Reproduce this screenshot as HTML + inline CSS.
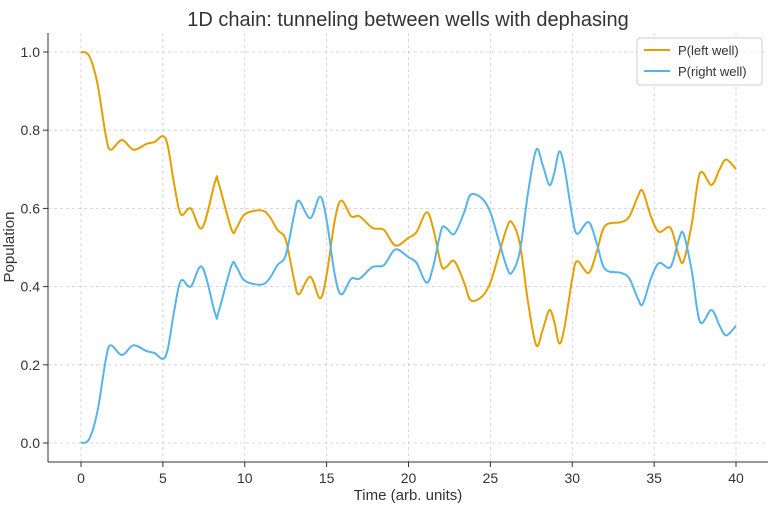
<!DOCTYPE html>
<html><head><meta charset="utf-8"><style>
body{margin:0;background:#fff;}
svg text{font-family:"Liberation Sans",sans-serif;}
</style></head><body>
<svg id="chart" width="768" height="512" viewBox="0 0 768 512">
<text x="408" y="26" text-anchor="middle" font-size="20" fill="#333">1D chain: tunneling between wells with dephasing</text>
<g id="grid"></g>
<g id="axes"></g>
<g id="series"></g>
<text x="408" y="500" text-anchor="middle" font-size="15" fill="#333">Time (arb. units)</text>
<text transform="translate(14,247) rotate(-90)" text-anchor="middle" font-size="15" fill="#333">Population</text>
<g>
<rect x="637" y="38" width="125" height="47" rx="3" fill="#fff" fill-opacity="0.8" stroke="#ccc"/>
<line x1="644" y1="50" x2="670" y2="50" stroke="#E69F00" stroke-width="2"/>
<text x="678" y="55" font-size="13" fill="#333">P(left well)</text>
<line x1="644" y1="71" x2="670" y2="71" stroke="#56B4E9" stroke-width="2"/>
<text x="678" y="76" font-size="13" fill="#333">P(right well)</text>
</g>
</svg>
<script>
const times=[0,0.5,1,1.5,1.8,2.5,3.2,4,4.5,5,5.3,5.7,6.1,6.7,7.4,8.2,8.4,9.2,9.5,10,11,11.5,12,12.5,13,13.3,14,14.6,15,15.5,15.9,16.5,17,17.8,18.5,19.2,20,20.5,21.1,21.5,22,22.3,22.8,23.4,23.8,24.5,25,25.5,26,26.3,26.8,27.3,27.8,28.2,28.6,28.9,29.2,29.5,30,30.3,31,31.5,32,33,33.5,34,34.3,34.8,35.3,36,36.5,36.8,37.3,37.8,38.5,39,39.4,40];
const leftWell=[1.0,0.99,0.92,0.79,0.75,0.775,0.75,0.765,0.77,0.785,0.76,0.66,0.585,0.60,0.55,0.67,0.665,0.545,0.55,0.585,0.595,0.58,0.545,0.52,0.42,0.38,0.425,0.37,0.43,0.57,0.62,0.58,0.58,0.55,0.545,0.505,0.525,0.54,0.59,0.55,0.455,0.45,0.465,0.41,0.365,0.375,0.41,0.48,0.55,0.565,0.51,0.36,0.25,0.29,0.34,0.31,0.255,0.29,0.42,0.465,0.435,0.49,0.555,0.565,0.58,0.63,0.645,0.58,0.54,0.55,0.48,0.465,0.56,0.69,0.66,0.70,0.725,0.70];
const rightWell=[0.0,0.01,0.08,0.21,0.25,0.225,0.25,0.235,0.23,0.215,0.24,0.34,0.415,0.40,0.45,0.33,0.335,0.455,0.45,0.415,0.405,0.42,0.455,0.48,0.58,0.62,0.575,0.63,0.57,0.43,0.38,0.42,0.42,0.45,0.455,0.495,0.475,0.46,0.41,0.45,0.545,0.55,0.535,0.59,0.635,0.625,0.59,0.52,0.45,0.435,0.49,0.64,0.75,0.71,0.66,0.69,0.745,0.71,0.58,0.535,0.565,0.51,0.445,0.435,0.42,0.37,0.355,0.42,0.46,0.45,0.52,0.535,0.44,0.31,0.34,0.30,0.275,0.30];
const xTicks=[0,5,10,15,20,25,30,35,40];
const yTicks=[0.0,0.2,0.4,0.6,0.8,1.0];
const NS="http://www.w3.org/2000/svg";
const X=t=>81+t*(736-81)/40;
const Y=v=>443-v*(443-52);
function mk(tag,attrs,parent){const e=document.createElementNS(NS,tag);for(const k in attrs)e.setAttribute(k,attrs[k]);parent.appendChild(e);return e;}
const grid=document.getElementById('grid'),axes=document.getElementById('axes'),series=document.getElementById('series');
xTicks.forEach(t=>{
 const g=mk('line',{x1:X(t),x2:X(t),y1:33,y2:462,stroke:'#ccc','stroke-dasharray':'3,3','stroke-width':0.8},grid);
 
 
 const tk=mk('line',{x1:X(t),x2:X(t),y1:462,y2:467,stroke:'#333'},axes);
 
 
 const tx=mk('text',{x:X(t),y:483,'text-anchor':'middle','font-size':14,fill:'#333'},axes);
 tx.textContent=t;
 
 
});
yTicks.forEach(v=>{
 const g=mk('line',{x1:48,x2:768,y1:Y(v),y2:Y(v),stroke:'#ccc','stroke-dasharray':'3,3','stroke-width':0.8},grid);
 
 
 const tk=mk('line',{x1:43,x2:48,y1:Y(v),y2:Y(v),stroke:'#333'},axes);
 
 
 const tx=mk('text',{x:40,y:Y(v)+5,'text-anchor':'end','font-size':14,fill:'#333'},axes);
 tx.textContent=v.toFixed(1);
 
 
});
const sp1=mk('line',{x1:48,x2:48,y1:33,y2:462,stroke:'#333'},axes);


const sp2=mk('line',{x1:48,x2:768,y1:462,y2:462,stroke:'#333'},axes);


function smooth(vals){
 const p=times.map((t,i)=>[X(t),Y(vals[i])]);
 let d='M'+p[0][0]+','+p[0][1];
 for(let i=0;i<p.length-1;i++){
  const p0=p[Math.max(0,i-1)],p1=p[i],p2=p[i+1],p3=p[Math.min(p.length-1,i+2)];
  const c1=[p1[0]+(p2[0]-p0[0])/6,p1[1]+(p2[1]-p0[1])/6];
  const c2=[p2[0]-(p3[0]-p1[0])/6,p2[1]-(p3[1]-p1[1])/6];
  d+=' C'+c1[0]+','+c1[1]+' '+c2[0]+','+c2[1]+' '+p2[0]+','+p2[1];
 }
 return d;
}
const l1=mk('path',{d:smooth(leftWell),fill:'none',stroke:'#E69F00','stroke-width':2},series);


const l2=mk('path',{d:smooth(rightWell),fill:'none',stroke:'#56B4E9','stroke-width':2},series);


</script>
</body></html>
